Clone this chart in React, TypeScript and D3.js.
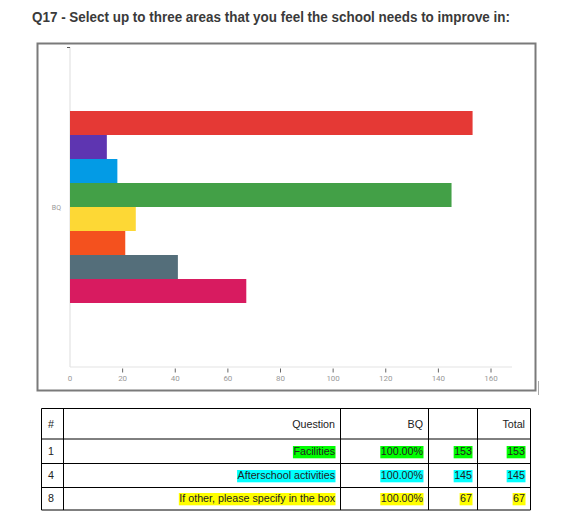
import * as d3 from "d3";
import { useEffect, useRef } from "react";

const title = "Q17 - Select up to three areas that you feel the school needs to improve in:";
const groupLabels = ["BQ"];
const seriesKeys = ["1", "2", "3", "4", "5", "6", "7", "8"];
const seriesValues = [153, 14, 18, 145, 25, 21, 41, 67];
const seriesColors = ["#e53935", "#5e35b1", "#039be5", "#43a047", "#fdd835", "#f4511e", "#546e7a", "#d81b60"];
const xTicks = [0, 20, 40, 60, 80, 100, 120, 140, 160];

const headerCells = ["#", "Question", "BQ", "", "Total"];
const rowIds = ["1", "4", "8"];
const rowQuestions = ["Facilities", "Afterschool activities", "If other, please specify in the box"];
const rowPercents = ["100.00%", "100.00%", "100.00%"];
const rowCounts = ["153", "145", "67"];
const rowTotals = ["153", "145", "67"];
const rowHighlights = ["#00ff00", "#00ffff", "#ffff00"];

export default function App() {
  const svgRef = useRef<SVGSVGElement | null>(null);
  const width = 573;
  const height = 521;

  useEffect(() => {
    if (!svgRef.current) return;
    const svg = d3.select(svgRef.current);
    svg.selectAll("*").remove();

    // title
    svg
      .append("text")
      .attr("x", 32)
      .attr("y", 22)
      .attr("font-family", "'Liberation Sans', Arial, sans-serif")
      .attr("font-weight", "bold")
      .attr("font-size", 14)
      .attr("fill", "#3a3a3a")
      .attr("textLength", 478)
      .attr("lengthAdjust", "spacingAndGlyphs")
      .text(title);

    // chart frame
    svg
      .append("rect")
      .attr("x", 37.5)
      .attr("y", 43.5)
      .attr("width", 498)
      .attr("height", 347)
      .attr("fill", "#fff")
      .attr("stroke", "#7a7a7a")
      .attr("stroke-width", 2);
    svg
      .append("line")
      .attr("x1", 538.5)
      .attr("x2", 538.5)
      .attr("y1", 381)
      .attr("y2", 395)
      .attr("stroke", "#aaa")
      .attr("stroke-width", 1);

    const x = d3.scaleLinear().domain([0, 160]).range([70, 491]);
    const y = d3.scaleBand().domain(groupLabels).range([47, 367]).padding(0.25);
    const ySub = d3.scaleBand().domain(seriesKeys).range([0, y.bandwidth()]);

    // axis lines
    svg
      .append("line")
      .attr("x1", 70)
      .attr("x2", 512)
      .attr("y1", 367)
      .attr("y2", 367)
      .attr("stroke", "#e3e3e3")
      .attr("stroke-width", 1.2);
    svg
      .append("line")
      .attr("x1", 70)
      .attr("x2", 70)
      .attr("y1", 47)
      .attr("y2", 367)
      .attr("stroke", "#e3e3e3")
      .attr("stroke-width", 1.2);
    svg
      .append("line")
      .attr("x1", 67)
      .attr("x2", 70)
      .attr("y1", 47.5)
      .attr("y2", 47.5)
      .attr("stroke", "#555")
      .attr("stroke-width", 1);

    const xAxis = svg.append("g");
    xAxis
      .selectAll("line")
      .data(xTicks.filter((t) => t > 0))
      .enter()
      .append("line")
      .attr("x1", (d) => x(d))
      .attr("x2", (d) => x(d))
      .attr("y1", 368.5)
      .attr("y2", 372.5)
      .attr("stroke", "#666")
      .attr("stroke-width", 1);
    xAxis
      .selectAll("text")
      .data(xTicks)
      .enter()
      .append("text")
      .attr("x", (d) => x(d))
      .attr("y", 381)
      .attr("text-anchor", "middle")
      .attr("font-family", "Roboto, sans-serif")
      .attr("font-size", 8)
      .attr("fill", "#999")
      .text((d) => d);

    // group label
    svg
      .selectAll(".group-label")
      .data(groupLabels)
      .enter()
      .append("text")
      .attr("class", "group-label")
      .attr("x", 61)
      .attr("y", (d) => y(d)! + y.bandwidth() / 2 + 3)
      .attr("text-anchor", "end")
      .attr("font-family", "Roboto, sans-serif")
      .attr("font-size", 7)
      .attr("fill", "#999")
      .text((d) => d);

    // bars
    svg
      .selectAll(".bar")
      .data(seriesValues)
      .enter()
      .append("rect")
      .attr("class", "bar")
      .attr("x", x(0))
      .attr("y", (_, i) => y(groupLabels[0])! + ySub(seriesKeys[i])!)
      .attr("width", (d) => x(d) - x(0))
      .attr("height", ySub.bandwidth())
      .attr("fill", (_, i) => seriesColors[i]);

    // table
    const colX = [41.5, 63.5, 340.5, 428.5, 477.5, 530.5];
    const rowY = [408.5, 439, 463.5, 487.5, 510];
    const baselines = [428, 455, 479, 502];
    const tableFont = "'Liberation Sans', Arial, sans-serif";
    const table = svg.append("g");

    const cell = (text: string, col: number, row: number, fill?: string) => {
      if (!text) return;
      const left = col === 0;
      const t = table
        .append("text")
        .attr("x", left ? colX[col] + 6.5 : colX[col + 1] - 5.5)
        .attr("y", baselines[row])
        .attr("text-anchor", left ? "start" : "end")
        .attr("font-family", tableFont)
        .attr("font-size", 10.7)
        .attr("fill", "#222")
        .text(text);
      if (fill) {
        const w = (t.node() as SVGTextElement).getComputedTextLength();
        const x0 = colX[col + 1] - 5.5 - w - 0.5;
        table
          .insert("rect", "text")
          .attr("x", x0)
          .attr("y", baselines[row] - 9)
          .attr("width", w + 1)
          .attr("height", 12.3)
          .attr("fill", fill);
      }
    };

    headerCells.forEach((h, c) => cell(h, c, 0));
    rowIds.forEach((id, r) => {
      cell(id, 0, r + 1);
      cell(rowQuestions[r], 1, r + 1, rowHighlights[r]);
      cell(rowPercents[r], 2, r + 1, rowHighlights[r]);
      cell(rowCounts[r], 3, r + 1, rowHighlights[r]);
      cell(rowTotals[r], 4, r + 1, rowHighlights[r]);
    });

    table
      .selectAll(".vline")
      .data(colX)
      .enter()
      .append("line")
      .attr("x1", (d) => d)
      .attr("x2", (d) => d)
      .attr("y1", rowY[0])
      .attr("y2", rowY[rowY.length - 1])
      .attr("stroke", "#000")
      .attr("stroke-width", 1);
    table
      .selectAll(".hline")
      .data(rowY)
      .enter()
      .append("line")
      .attr("x1", colX[0])
      .attr("x2", colX[colX.length - 1])
      .attr("y1", (d) => d)
      .attr("y2", (d) => d)
      .attr("stroke", "#000")
      .attr("stroke-width", 1);
  }, [svgRef]);

  return (
    <svg
      ref={svgRef}
      width={width}
      height={height}
      style={{ position: "absolute", left: 0, top: 0, background: "#fff" }}
    />
  );
}
